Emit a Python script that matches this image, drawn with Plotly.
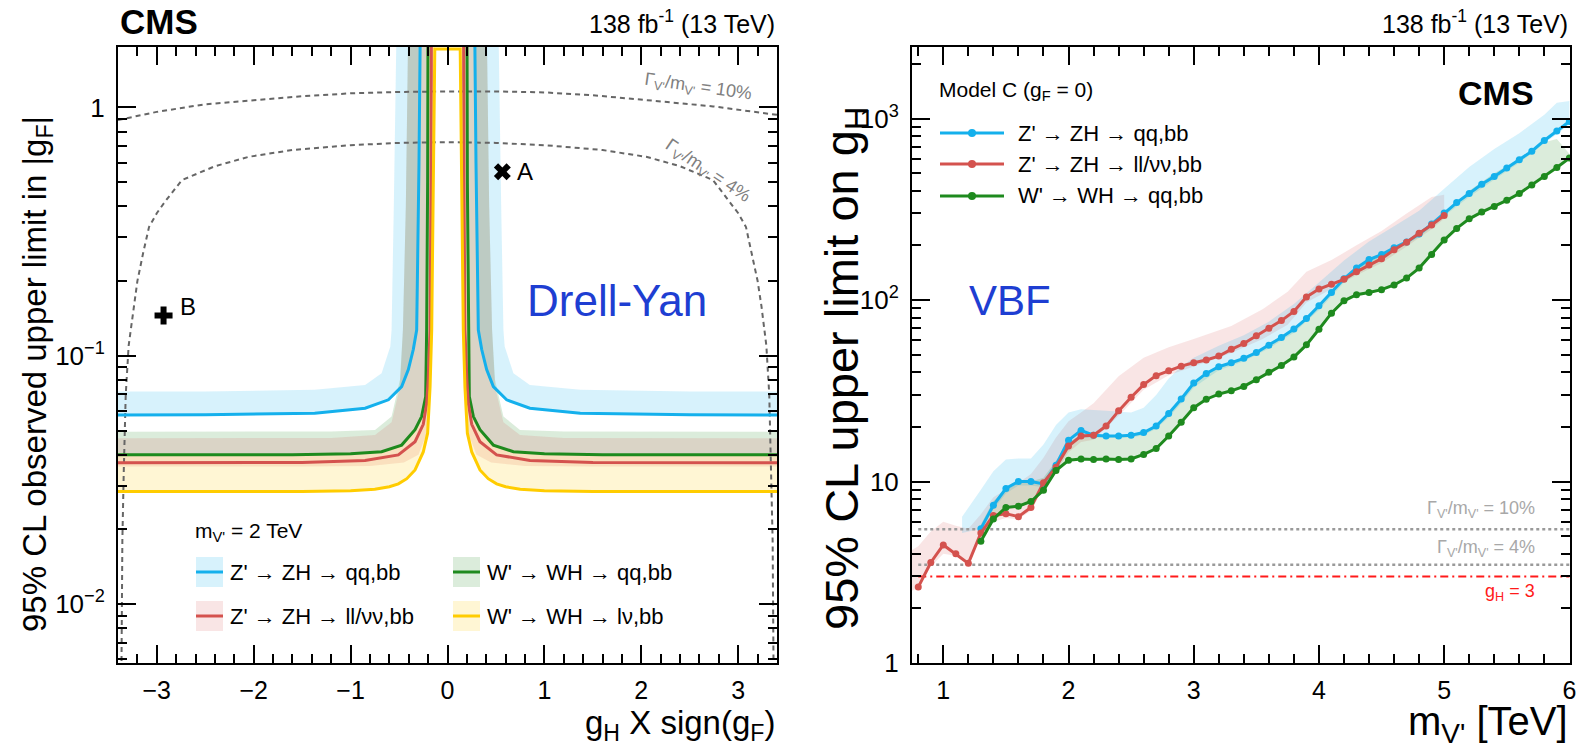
import math
import plotly.graph_objects as go

# ---------------- DATA: left panel (Drell-Yan, m_V' = 2 TeV), positive branch g_H>0 ----------------
CYAN_X = [0.277, 0.294, 0.318, 0.353, 0.404, 0.473, 0.61, 0.85, 1.37, 2.5, 3.4]
CYAN_Y = [3.0, 0.6, 0.127, 0.106, 0.088, 0.0752, 0.0665, 0.0615, 0.0587, 0.0579, 0.0578]
CYAN_OUT_X = [0.52, 0.554, 0.577, 0.59, 0.68, 0.85, 1.37, 2.5, 3.4]
CYAN_OUT_Y = [3.0, 0.4, 0.127, 0.109, 0.085, 0.0763, 0.073, 0.0719, 0.0718]

GREEN_X = [0.2, 0.205, 0.215, 0.225, 0.267, 0.335, 0.473, 0.68, 1.0, 1.6, 3.4]
GREEN_Y = [3.0, 0.5, 0.127, 0.0686, 0.0569, 0.0504, 0.0437, 0.0411, 0.0403, 0.04, 0.04]
GREEN_OUT_X = [0.40, 0.43, 0.46, 0.49, 0.577, 0.748, 1.2, 3.4]
GREEN_OUT_Y = [3.0, 0.4, 0.127, 0.08, 0.057, 0.0503, 0.0496, 0.0495]

RED_X = [0.165, 0.17, 0.18, 0.2, 0.215, 0.25, 0.335, 0.507, 0.851, 1.5, 3.4]
RED_Y = [3.0, 0.5, 0.127, 0.08, 0.0644, 0.053, 0.0451, 0.0399, 0.0379, 0.0372, 0.0371]
RED_LO_X = [0.15, 0.155, 0.16, 0.18, 0.22, 0.3, 0.45, 0.8, 1.5, 3.4]
RED_LO_Y = [3.0, 0.5, 0.127, 0.065, 0.048, 0.04, 0.0372, 0.036, 0.0358, 0.0358]
RED_HI_X = [0.40, 0.43, 0.46, 0.49, 0.577, 0.748, 1.2, 3.4]
RED_HI_Y = [3.0, 0.4, 0.127, 0.075, 0.054, 0.048, 0.0467, 0.0466]

YELLOW_X = [0.131, 0.142, 0.154, 0.163, 0.18, 0.205, 0.25, 0.335, 0.42, 0.507, 0.6, 0.75, 1.0, 1.5, 3.4]
YELLOW_Y = [1.72, 0.676, 0.268, 0.127, 0.075, 0.0488, 0.041, 0.0347, 0.032, 0.0305, 0.0297, 0.029, 0.0286, 0.0284, 0.0284]
YELLOW_OUT_X = [0.2, 0.205, 0.215, 0.225, 0.267, 0.335, 0.473, 0.68, 1.0, 1.6, 3.4]
YELLOW_OUT_Y = [3.0, 0.5, 0.127, 0.068, 0.056, 0.0498, 0.0433, 0.0408, 0.0401, 0.0399, 0.0399]

W10_X = [-3.4, -3.0, -2.5, -2.0, -1.5, -1.0, -0.5, 0.0, 0.5, 1.0, 1.5, 2.06, 2.74, 3.4]
W10_Y = [0.89, 0.96, 1.03, 1.07, 1.11, 1.14, 1.155, 1.16, 1.16, 1.15, 1.12, 1.07, 1.01, 0.934]
W4_X = [0.0, 0.5, 1.0, 1.6, 2.05, 2.4, 2.74, 2.91, 3.0, 3.08, 3.14, 3.2, 3.24, 3.29, 3.32, 3.34, 3.355, 3.365]
W4_Y = [0.725, 0.72, 0.705, 0.674, 0.633, 0.58, 0.51, 0.42, 0.375, 0.33, 0.26, 0.2, 0.158, 0.11, 0.07, 0.035, 0.018, 0.005]

POINT_A = (0.566, 0.551)
POINT_B = (-2.93, 0.1454)

# ---------------- DATA: right panel (VBF, Model C) ----------------
RED_M = [0.8, 0.9, 1.0, 1.1, 1.2, 1.3, 1.4, 1.5, 1.6, 1.7, 1.8, 1.9, 2.0, 2.1, 2.2, 2.3, 2.4, 2.5, 2.6, 2.7,
         2.8, 2.9, 3.0, 3.1, 3.2, 3.3, 3.4, 3.5, 3.6, 3.7, 3.8, 3.9, 4.0, 4.1, 4.2, 4.3, 4.4, 4.5, 4.6, 4.7,
         4.8, 4.9, 5.0]
RED_GH = [2.62, 3.58, 4.47, 4.0, 3.54, 5.2, 6.5, 6.65, 6.4, 7.2, 9.85, 12.0, 15.7, 17.8, 18.0, 20.2, 24.5, 29.1,
          34.2, 38.3, 40.7, 43.2, 45.1, 46.7, 49.1, 53.5, 57.6, 63.5, 69.8, 77.0, 86.5, 104, 115, 122, 130, 143,
          156, 169, 189, 208, 233, 259, 292]

ZQ_M = [1.3, 1.4, 1.5, 1.6, 1.7, 1.8, 1.9, 2.0, 2.1, 2.2, 2.3, 2.4, 2.5, 2.6, 2.7, 2.8, 2.9, 3.0, 3.1, 3.2,
        3.3, 3.4, 3.5, 3.6, 3.7, 3.8, 3.9, 4.0, 4.1, 4.2, 4.3, 4.4, 4.5, 4.6, 4.7, 4.8, 4.9, 5.0, 5.1, 5.2,
        5.3, 5.4, 5.5, 5.6, 5.7, 5.8, 5.9, 6.0]
ZQ_GH = [5.5, 7.4, 9.15, 10.0, 10.0, 9.7, 12.3, 16.9, 19.1, 18.0, 17.8, 17.8, 18.0, 18.6, 20.2, 23.7, 28.5, 34.9,
         39.4, 42.9, 45.1, 47.7, 51.3, 56.4, 62.2, 69.2, 79, 93, 110, 131, 150, 167, 178, 194, 209, 231, 262,
         302, 344, 386, 434, 479, 533, 593, 660, 757, 853, 962]

WQ_M = ZQ_M
WQ_GH = [4.68, 6.21, 7.2, 7.31, 7.76, 8.96, 11.5, 13.1, 13.3, 13.2, 13.3, 13.2, 13.3, 14.1, 15.2, 17.8, 21.2,
         25.5, 28.4, 30.3, 31.6, 33.4, 36.4, 40.0, 43.6, 48.5, 56.6, 69, 84.6, 99, 107, 110, 114, 121, 132,
         150, 178, 214, 248, 280, 305, 328, 354, 386, 430, 479, 537, 605]

PINK_BX = [0.75, 0.8, 0.9, 1.0, 1.1, 1.2, 1.3, 1.4, 1.5, 1.6, 1.7, 1.8, 1.9, 2.0, 2.1, 2.2, 2.4, 2.6, 2.8, 3.0,
           3.3, 3.55, 3.75, 3.9, 4.1, 4.3, 4.5, 4.7, 4.9, 5.0]
PINK_LO = [2.5, 2.6, 3.4, 4.0, 3.9, 3.6, 4.9, 6.0, 6.3, 6.2, 6.9, 9.2, 11.3, 14.5, 16.5, 17.0, 23, 32, 38.5, 43,
           51, 61, 73, 97, 115, 137, 160, 197, 245, 280]
PINK_HI = [4.2, 4.4, 5.3, 6.0, 5.7, 5.5, 6.6, 8.2, 9.0, 9.8, 11, 13.5, 17.5, 21.5, 24, 27, 38, 48, 55, 61, 72,
           89, 111, 143, 166, 200, 240, 300, 370, 380]

CYAN_BX = [1.15, 1.3, 1.4, 1.5, 1.6, 1.7, 1.8, 1.9, 2.0, 2.1, 2.3, 2.5, 2.6, 2.7, 2.8, 2.9, 3.0, 3.2, 3.4, 3.6,
           3.8, 4.0, 4.2, 4.4, 4.6, 4.8, 5.0, 5.2, 5.4, 5.6, 5.8, 5.9, 6.0]
CYAN_LO = [5.2, 5.5, 7.0, 8.6, 9.5, 9.5, 9.3, 12, 16, 17.5, 17.5, 17.5, 18, 19.5, 22.5, 27, 33, 41, 46, 54, 66,
           88, 125, 160, 188, 222, 290, 370, 460, 570, 730, 820, 930]
CYAN_HI = [6.4, 9.0, 11.4, 13.2, 13.4, 13.4, 16, 20.5, 24, 25, 24.5, 24, 25.5, 30, 37, 43, 48, 56, 64, 76, 95,
           125, 165, 210, 255, 310, 410, 540, 680, 830, 1050, 1220, 1250]

GREEN_BX = [1.3, 1.4, 1.5, 1.6, 1.7, 1.8, 1.9, 2.0, 2.1, 2.5, 2.6, 2.7, 2.8, 2.9, 3.0, 3.2, 3.4, 3.6, 3.8, 4.0,
            4.2, 4.4, 4.6, 4.8, 5.0, 5.2, 5.4, 5.6, 5.8, 5.9, 6.0]
GREEN_LO = [4.68, 6.21, 7.2, 7.31, 7.76, 8.96, 11.5, 13.1, 13.3, 13.3, 14.1, 15.2, 17.8, 21.2, 25.5, 30.3, 33.4,
            40, 48.5, 69, 99, 110, 121, 150, 214, 280, 328, 386, 479, 537, 605]
GREEN_HI = [5.8, 7.8, 9.0, 9.8, 10.0, 10.5, 13, 16.5, 18, 18, 18.6, 20.2, 23.7, 28.5, 35, 43, 48, 56, 69, 93,
            131, 167, 194, 231, 302, 400, 500, 600, 740, 770, 640]

GAMMA10_GH = 5.45
GAMMA4_GH = 3.48
GH_REF = 3.0
HLINE_X = [0.8, 6.0]

LEFT_TICKS = [0.01, 0.1, 1]
LEFT_TICKTEXT = ["10<sup>\u22122</sup>", "10<sup>\u22121</sup>", "1"]
RIGHT_TICKS = [1, 10, 100, 1000]
RIGHT_TICKTEXT = ["1", "10", "10<sup>2</sup>", "10<sup>3</sup>"]
RIGHT_XTICKS = [1, 2, 3, 4, 5, 6]

# ---------------- style ----------------
W, H = 1576, 750
FONT = "Liberation Sans"
C_CYAN, C_RED, C_GREEN, C_YEL = "#14b0ec", "#d4524e", "#1e8a1e", "#ffcc00"
F_CYAN, F_RED, F_GREEN, F_YEL = ("rgba(20,176,236,0.17)", "rgba(212,82,78,0.15)",
                                 "rgba(30,138,30,0.16)", "rgba(255,204,0,0.17)")
L_X0, L_X1, R_X0, R_X1, Y0, Y1 = 118, 777, 912, 1570, 47, 663


def pxx(x):
    return x / W


def pyy(y):
    return 1 - y / H


fig = go.Figure()


def band_poly(xi, yi, xo, yo):
    xs = list(xi) + list(xo)[::-1]
    ys = list(yi) + list(yo)[::-1]
    return xs + [None] + [-v for v in xs], ys + [None] + ys


def full_curve(xp, yp):
    return [-v for v in xp[::-1]] + list(xp), list(yp[::-1]) + list(yp)


# left bands
for (xi, yi, xo, yo, fc) in [(CYAN_X, CYAN_Y, CYAN_OUT_X, CYAN_OUT_Y, F_CYAN),
                             (GREEN_X, GREEN_Y, GREEN_OUT_X, GREEN_OUT_Y, F_GREEN),
                             (RED_LO_X, RED_LO_Y, RED_HI_X, RED_HI_Y, F_RED),
                             (YELLOW_X, YELLOW_Y, YELLOW_OUT_X, YELLOW_OUT_Y, F_YEL)]:
    bx, by = band_poly(xi, yi, xo, yo)
    fig.add_trace(go.Scatter(x=bx, y=by, fill="toself", fillcolor=fc, mode="none",
                             hoverinfo="skip", showlegend=False, xaxis="x", yaxis="y"))

# width curves
fig.add_trace(go.Scatter(x=W10_X, y=W10_Y, mode="lines", line=dict(color="#666666", width=2, dash="5px,4px"),
                         showlegend=False, xaxis="x", yaxis="y"))
wx, wy = full_curve(W4_X, W4_Y)
fig.add_trace(go.Scatter(x=wx, y=wy, mode="lines", line=dict(color="#666666", width=2, dash="5px,4px"),
                         showlegend=False, xaxis="x", yaxis="y"))

# left lines
for (xp, yp, c) in [(CYAN_X, CYAN_Y, C_CYAN), (GREEN_X, GREEN_Y, C_GREEN),
                    (RED_X, RED_Y, C_RED), (YELLOW_X, YELLOW_Y, C_YEL)]:
    lx, ly = full_curve(xp, yp)
    fig.add_trace(go.Scatter(x=lx, y=ly, mode="lines", line=dict(color=c, width=3),
                             showlegend=False, xaxis="x", yaxis="y"))

# A / B points
fig.add_trace(go.Scatter(x=[POINT_A[0]], y=[POINT_A[1]], mode="markers",
                         marker=dict(symbol="x", size=15, color="black"), showlegend=False, xaxis="x", yaxis="y"))
fig.add_trace(go.Scatter(x=[POINT_B[0]], y=[POINT_B[1]], mode="markers",
                         marker=dict(symbol="cross", size=15, color="black"), showlegend=False, xaxis="x", yaxis="y"))

# right bands
for (bx, lo, hi, fc) in [(PINK_BX, PINK_LO, PINK_HI, F_RED), (CYAN_BX, CYAN_LO, CYAN_HI, F_CYAN),
                         (GREEN_BX, GREEN_LO, GREEN_HI, F_GREEN)]:
    fig.add_trace(go.Scatter(x=list(bx) + list(bx)[::-1], y=list(lo) + list(hi)[::-1], fill="toself",
                             fillcolor=fc, mode="none", hoverinfo="skip", showlegend=False,
                             xaxis="x2", yaxis="y2"))

# reference lines
fig.add_trace(go.Scatter(x=HLINE_X, y=[GAMMA10_GH] * 2, mode="lines", line=dict(color="#9a9a9a", width=2.5, dash="dot"),
                         showlegend=False, xaxis="x2", yaxis="y2"))
fig.add_trace(go.Scatter(x=HLINE_X, y=[GAMMA4_GH] * 2, mode="lines", line=dict(color="#9a9a9a", width=2.5, dash="dot"),
                         showlegend=False, xaxis="x2", yaxis="y2"))
fig.add_trace(go.Scatter(x=HLINE_X, y=[GH_REF] * 2, mode="lines",
                         line=dict(color="#ff1a1a", width=2, dash="8px,4px,2px,4px"),
                         showlegend=False, xaxis="x2", yaxis="y2"))

for (mx, my, c) in [(ZQ_M, ZQ_GH, C_CYAN), (RED_M, RED_GH, C_RED), (WQ_M, WQ_GH, C_GREEN)]:
    fig.add_trace(go.Scatter(x=mx, y=my, mode="lines+markers", line=dict(color=c, width=3),
                             marker=dict(size=7, color=c), showlegend=False, xaxis="x2", yaxis="y2"))


def logminor(lo, hi):
    out = []
    for d in range(lo, hi):
        for k in range(2, 10):
            out.append(k * 10 ** d)
    return out


tk = dict(ticks="inside", tickcolor="black", tickwidth=1.5)
common = dict(showline=True, linecolor="black", linewidth=2, mirror="allticks", showgrid=False,
              zeroline=False, automargin=False, tickfont=dict(family=FONT, size=25, color="black"), **tk)

fig.update_layout(
    width=W, height=H, margin=dict(l=0, r=0, t=0, b=0), paper_bgcolor="white", plot_bgcolor="white",
    xaxis=dict(domain=[pxx(L_X0), pxx(L_X1)], range=[-3.4, 3.4], dtick=1, tick0=0, ticklen=18,
               minor=dict(dtick=0.2, tick0=0, ticklen=9, **tk), anchor="y", ticklabelstandoff=4, **common),
    yaxis=dict(domain=[pyy(Y1), pyy(Y0)], type="log", range=[-2.237, 0.2435], tickmode="array",
               tickvals=LEFT_TICKS, ticktext=LEFT_TICKTEXT, ticklen=18,
               minor=dict(tickmode="array", tickvals=logminor(-3, 1), ticklen=9, **tk), anchor="x",
               ticklabelstandoff=6, **{**common, "tickfont": dict(family=FONT, size=26, color="black")}),
    xaxis2=dict(domain=[pxx(R_X0), pxx(R_X1)], range=[0.75, 6.005], tickmode="array", tickvals=RIGHT_XTICKS,
                ticklen=18, minor=dict(dtick=0.2, tick0=0, ticklen=9, **tk), anchor="y2", ticklabelstandoff=4,
                ticklabeloverflow="allow", **common),
    yaxis2=dict(domain=[pyy(Y1), pyy(Y0)], type="log", range=[0, 3.394], tickmode="array",
                tickvals=RIGHT_TICKS, ticktext=RIGHT_TICKTEXT, ticklen=18,
                minor=dict(tickmode="array", tickvals=logminor(0, 4), ticklen=9, **tk), anchor="x2",
                ticklabelstandoff=6, **{**common, "tickfont": dict(family=FONT, size=26, color="black")}),
)

ann = []


def text(x, y, s, size, color="black", xanchor="center", yanchor="middle", angle=0, ref="paper"):
    d = dict(text=s, showarrow=False, font=dict(family=FONT, size=size, color=color),
             xanchor=xanchor, yanchor=yanchor, textangle=angle)
    if ref == "paper":
        d.update(x=pxx(x), y=pyy(y), xref="paper", yref="paper")
    else:
        # data coordinates; y axes are logarithmic, so annotations take log10 positions
        d.update(x=x, y=math.log10(y), xref=ref[0], yref=ref[1])
    ann.append(d)


# titles & headers
text(L_X0, 21, "<b>CMS</b>", 35, xanchor="left")
text(L_X1, 22, "138 fb<sup>-1</sup> (13 TeV)", 25, xanchor="right")
text(R_X1, 22, "138 fb<sup>-1</sup> (13 TeV)", 25, xanchor="right")
text(1496, 93, "<b>CMS</b>", 34)
text(37, 374, "95% CL observed upper limit in |g<sub>F</sub>|", 33, angle=-90)
text(845, 368, "95% CL upper limit on g<sub>H</sub>", 47, angle=-90)
text(L_X1, 725, "g<sub>H</sub> X sign(g<sub>F</sub>)", 33, xanchor="right")
text(R_X1, 724, "m<sub>V'</sub> [TeV]", 40, xanchor="right")
text(617, 300, "Drell-Yan", 44, color="#1e3ed2")
text(1010, 300, "VBF", 42, color="#1e3ed2")

# left in-plot labels
text(2.58, 1.2, "\u0393<sub>V'</sub>/m<sub>V'</sub> = 10%", 18, color="#808080", angle=8, ref=("x", "y"))
text(2.68, 0.55, "\u0393<sub>V'</sub>/m<sub>V'</sub> = 4%", 18, color="#808080", angle=34, ref=("x", "y"))
text(0.70, 0.55, "A", 24, xanchor="left", ref=("x", "y"))
text(-2.78, 0.158, "B", 24, xanchor="left", ref=("x", "y"))

# right in-plot labels
text(5.745, 7.0, "\u0393<sub>V'</sub>/m<sub>V'</sub> = 10%", 18, color="#a8a8a8", xanchor="right", ref=("x2", "y2"))
text(5.745, 4.3, "\u0393<sub>V'</sub>/m<sub>V'</sub> = 4%", 18, color="#a8a8a8", xanchor="right", ref=("x2", "y2"))
text(5.745, 2.45, "g<sub>H</sub> = 3", 18, color="#ff1a1a", xanchor="right", ref=("x2", "y2"))

# left legend (manual)
shapes = []
text(193, 532, "m<sub>V'</sub> = 2 TeV", 21, xanchor="left")
LEG_L = [(196, 572, F_CYAN, C_CYAN, "Z' \u2192 ZH \u2192 qq,bb"),
         (196, 616, F_RED, C_RED, "Z' \u2192 ZH \u2192 ll/\u03bd\u03bd,bb"),
         (453, 572, F_GREEN, C_GREEN, "W' \u2192 WH \u2192 qq,bb"),
         (453, 616, F_YEL, C_YEL, "W' \u2192 WH \u2192 l\u03bd,bb")]
for (x0, yc, fc, lc, lab) in LEG_L:
    shapes.append(dict(type="rect", xref="paper", yref="paper", x0=pxx(x0), x1=pxx(x0 + 27),
                       y0=pyy(yc + 15), y1=pyy(yc - 15), fillcolor=fc, line=dict(width=0)))
    shapes.append(dict(type="line", xref="paper", yref="paper", x0=pxx(x0), x1=pxx(x0 + 27),
                       y0=pyy(yc), y1=pyy(yc), line=dict(color=lc, width=3)))
    text(x0 + 32, yc, lab, 22, xanchor="left")

# right legend (manual)
text(937, 91, "Model C (g<sub>F</sub> = 0)", 21, xanchor="left")
LEG_R = [(133, C_CYAN, "Z' \u2192 ZH \u2192 qq,bb"), (164, C_RED, "Z' \u2192 ZH \u2192 ll/\u03bd\u03bd,bb"),
         (196, C_GREEN, "W' \u2192 WH \u2192 qq,bb")]
for (yc, lc, lab) in LEG_R:
    shapes.append(dict(type="line", xref="paper", yref="paper", x0=pxx(940), x1=pxx(1004),
                       y0=pyy(yc), y1=pyy(yc), line=dict(color=lc, width=3)))
    shapes.append(dict(type="circle", xref="paper", yref="paper", x0=pxx(968), x1=pxx(976),
                       y0=pyy(yc + 4), y1=pyy(yc - 4), fillcolor=lc, line=dict(width=0)))
    text(1016, yc, lab, 22, xanchor="left")

fig.update_layout(annotations=ann, shapes=shapes)
fig.write_html("out.html", config={"displayModeBar": False},
               post_script="document.body.style.margin='0';document.body.style.overflow='hidden';")
